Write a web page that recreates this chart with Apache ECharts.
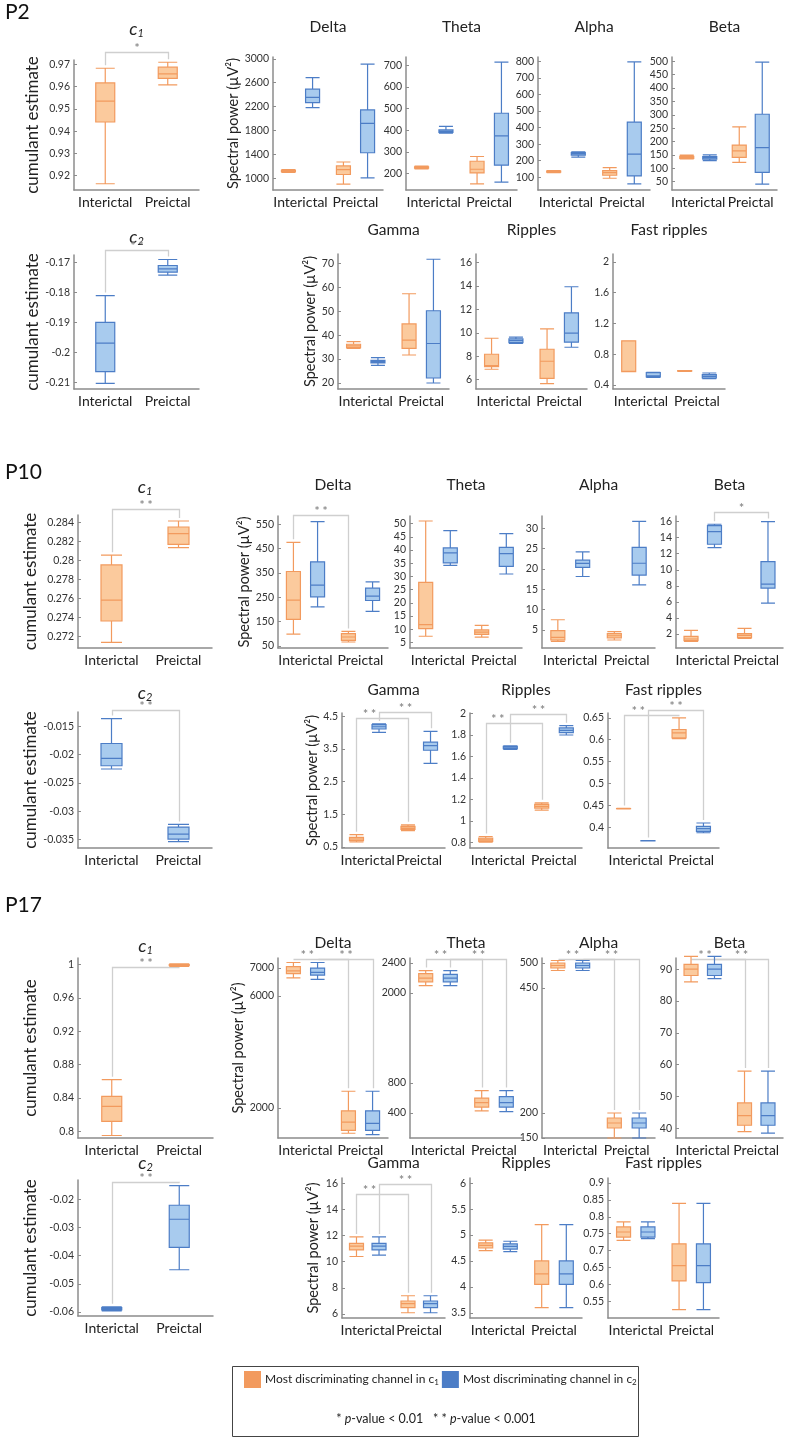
<!DOCTYPE html>
<html><head><meta charset="utf-8">
<script src="https://cdn.jsdelivr.net/npm/echarts@6/dist/echarts.min.js"></script>
<style>html,body{margin:0;padding:0;background:#fff}#c{width:785px;height:1439px}</style>
</head><body><div id="c"></div><script>
const FONT = 'Lato, "Open Sans", sans-serif';
const categories = ['Interictal', 'Preictal'];

// ---------- P2 ----------
const p2_c1_vals = [[0.9164, 0.9441, 0.9535, 0.9616, 0.9682], [0.9607, 0.9637, 0.9657, 0.9687, 0.9709]];
const p2_c1_ticks = [0.92, 0.93, 0.94, 0.95, 0.96, 0.97];
const p2_c1_sig = [[0, 0, 0, 1, '*']];
const p2_c2_vals = [[-0.2103, -0.2064, -0.1969, -0.19, -0.1811], [-0.1743, -0.1733, -0.1722, -0.1711, -0.1691]];
const p2_c2_ticks = [-0.21, -0.2, -0.19, -0.18, -0.17];
const p2_c2_sig = [[0, 0, 0, 1, '* *']];
const p2_delta_c1 = [[1100, 1115, 1125, 1135, 1150], [906, 1066, 1149, 1209, 1275]];
const p2_delta_c2 = [[2185, 2267, 2355, 2493, 2686], [1011, 1430, 1920, 2146, 2912]];
const p2_delta_ticks = [1000, 1400, 1800, 2200, 2600, 3000];
const p2_theta_c1 = [[222, 225, 228, 231, 234], [152, 203, 220, 257, 279]];
const p2_theta_c2 = [[387, 390, 395, 402, 418], [160, 239, 374, 479, 715]];
const p2_theta_ticks = [200, 300, 400, 500, 600, 700];
const p2_alpha_c1 = [[128, 131, 134, 137, 140], [94, 112, 128, 140, 158]];
const p2_alpha_c2 = [[221, 233, 243, 249, 253], [60, 108, 239, 433, 796]];
const p2_alpha_ticks = [100, 200, 300, 400, 500, 600, 700, 800];
const p2_beta_c1 = [[135, 137, 141, 145, 149], [122, 141, 165, 187, 255]];
const p2_beta_c2 = [[129, 134, 139, 144, 150], [41, 85, 177, 302, 497]];
const p2_beta_ticks = [50, 100, 150, 200, 250, 300, 350, 400, 450, 500];
const p2_gamma_c1 = [[34.5, 34.8, 35.5, 36.2, 37.3], [31.7, 34.5, 37.9, 44.7, 57.3]];
const p2_gamma_c2 = [[27.4, 28.4, 28.9, 29.5, 30.6], [20, 22.1, 36.5, 50.2, 71.7]];
const p2_gamma_ticks = [20, 30, 40, 50, 60, 70];
const p2_ripples_c1 = [[6.89, 7.11, 7.2, 8.17, 9.54], [5.66, 6.11, 7.57, 8.6, 10.34]];
const p2_ripples_c2 = [[9.09, 9.17, 9.34, 9.49, 9.63], [8.77, 9.2, 9.97, 11.71, 13.94]];
const p2_ripples_ticks = [6, 8, 10, 12, 14, 16];
const p2_fast_c1 = [[0.575, 0.575, 0.578, 0.975, 0.975], [0.578, 0.58, 0.583, 0.586, 0.588]];
const p2_fast_c2 = [[0.5, 0.504, 0.52, 0.561, 0.565], [0.483, 0.491, 0.513, 0.535, 0.556]];
const p2_fast_ticks = [0.4, 0.8, 1.2, 1.6, 2];

// ---------- P10 ----------
const p10_c1_vals = [[0.27138, 0.27362, 0.27582, 0.27952, 0.28054], [0.28134, 0.28169, 0.28281, 0.28351, 0.28414]];
const p10_c1_ticks = [0.272, 0.274, 0.276, 0.278, 0.28, 0.282, 0.284];
const p10_c1_sig = [[0, 0, 0, 1, '* *']];
const p10_c2_vals = [[-0.02254, -0.02196, -0.02067, -0.01804, -0.01365], [-0.03535, -0.03488, -0.034, -0.03278, -0.0323]];
const p10_c2_ticks = [-0.035, -0.03, -0.025, -0.02, -0.015];
const p10_c2_sig = [[0, 0, 0, 1, '* *']];
const p10_delta_c1 = [[99, 159, 238.5, 356, 476], [66.4, 73, 87, 100.5, 110]];
const p10_delta_c2 = [[211, 252, 300, 395.6, 561], [192, 237, 255, 287.7, 313.7]];
const p10_delta_ticks = [50, 150, 250, 350, 450, 550];
const p10_delta_sig = [[0, 0, 0, 1, '* *']];
const p10_theta_c1 = [[7.3, 10.2, 11.7, 27.75, 51], [7.0, 8.0, 8.9, 9.7, 11.45]];
const p10_theta_c2 = [[34.2, 35.1, 38.9, 40.8, 47.35], [30.9, 33.8, 38.6, 41, 46.2]];
const p10_theta_ticks = [5, 10, 15, 20, 25, 30, 35, 40, 45, 50];
const p10_alpha_c1 = [[2.2, 2.55, 3.2, 4.84, 7.53], [2.55, 3.1, 3.6, 4.1, 4.6]];
const p10_alpha_c2 = [[18.15, 20.4, 21.35, 22.16, 24.2], [16.1, 18.5, 21.4, 25.3, 31.7]];
const p10_alpha_ticks = [5, 10, 15, 20, 25, 30];
const p10_beta_c1 = [[1.09, 1.17, 1.38, 1.71, 2.46], [1.46, 1.54, 1.83, 2.04, 2.7]];
const p10_beta_c2 = [[12.77, 13.18, 14.76, 15.5, 15.67], [5.85, 7.72, 8.22, 11.03, 16]];
const p10_beta_ticks = [2, 4, 6, 8, 10, 12, 14, 16];
const p10_beta_sig = [[1, 0, 1, 1, '*']];
const p10_gamma_c1 = [[0.653, 0.694, 0.745, 0.796, 0.877], [1.0, 1.04, 1.08, 1.13, 1.18]];
const p10_gamma_c2 = [[4.01, 4.11, 4.18, 4.245, 4.265], [3.06, 3.46, 3.6, 3.71, 4.04]];
const p10_gamma_ticks = [0.5, 1.5, 2.5, 3.5, 4.5];
const p10_gamma_sig = [[0, 0, 0, 1, '* *'], [1, 0, 1, 1, '* *']];
const p10_ripples_c1 = [[0.803, 0.81, 0.824, 0.84, 0.855], [1.1, 1.12, 1.136, 1.154, 1.169]];
const p10_ripples_c2 = [[1.667, 1.673, 1.686, 1.695, 1.7], [1.8, 1.823, 1.844, 1.866, 1.887]];
const p10_ripples_ticks = [0.8, 1, 1.2, 1.4, 1.6, 1.8, 2];
const p10_ripples_sig = [[0, 0, 0, 1, '* *'], [1, 0, 1, 1, '* *']];
const p10_fast_c1 = [[0.442, 0.4425, 0.4427, 0.443, 0.4432], [0.6027, 0.6043, 0.6157, 0.6233, 0.65]];
const p10_fast_c2 = [[0.369, 0.3692, 0.3695, 0.3698, 0.37], [0.3878, 0.3909, 0.397, 0.4023, 0.41]];
const p10_fast_ticks = [0.4, 0.45, 0.5, 0.55, 0.6, 0.65];
const p10_fast_sig = [[0, 0, 0, 1, '* *'], [1, 0, 1, 1, '* *']];

// ---------- P17 ----------
const p17_c1_vals = [[0.795, 0.812, 0.83, 0.842, 0.862], [0.998, 0.999, 0.9995, 1.0, 1.001]];
const p17_c1_ticks = [0.8, 0.84, 0.88, 0.92, 0.96, 1];
const p17_c1_sig = [[0, 0, 0, 1, '* *']];
const p17_c2_vals = [[-0.0597, -0.0593, -0.0589, -0.0585, -0.0582], [-0.045, -0.037, -0.027, -0.022, -0.015]];
const p17_c2_ticks = [-0.06, -0.05, -0.04, -0.03, -0.02];
const p17_c2_sig = [[0, 0, 0, 1, '* *']];
const p17_delta_c1 = [[6650, 6800, 6900, 7050, 7200], [1100, 1200, 1500, 1900, 2600]];
const p17_delta_c2 = [[6600, 6750, 6850, 7000, 7200], [1050, 1200, 1450, 1900, 2600]];
const p17_delta_ticks = [2000, 6000, 7000];
const p17_theta_c1 = [[2100, 2150, 2200, 2260, 2300], [430, 480, 540, 600, 700]];
const p17_theta_c2 = [[2100, 2150, 2200, 2250, 2300], [420, 480, 540, 620, 700]];
const p17_theta_ticks = [400, 800, 2000, 2400];
const p17_alpha_c1 = [[485, 490, 495, 500, 505], [150, 170, 180, 190, 200]];
const p17_alpha_c2 = [[485, 490, 495, 500, 505], [150, 170, 180, 190, 200]];
const p17_alpha_ticks = [150, 200, 450, 500];
const p17_beta_c1 = [[86, 88, 90, 91.5, 94], [39, 41, 44, 48, 58]];
const p17_beta_c2 = [[87, 88, 90, 91.5, 94], [38.5, 41, 44, 48, 58]];
const p17_beta_ticks = [40, 50, 60, 70, 80, 90];
const p17_gamma_c1 = [[10.4, 10.9, 11.2, 11.4, 11.9], [6.1, 6.5, 6.8, 7.0, 7.4]];
const p17_gamma_c2 = [[10.5, 10.9, 11.2, 11.4, 11.9], [6.1, 6.5, 6.8, 7.0, 7.4]];
const p17_gamma_ticks = [6, 8, 10, 12, 14, 16];
const p17_ripples_c1 = [[4.7, 4.75, 4.8, 4.85, 4.9], [3.6, 4.05, 4.25, 4.5, 5.2]];
const p17_ripples_c2 = [[4.68, 4.73, 4.78, 4.83, 4.88], [3.6, 4.05, 4.25, 4.5, 5.2]];
const p17_ripples_ticks = [3.5, 4, 4.5, 5, 5.5, 6];
const p17_fast_c1 = [[0.73, 0.74, 0.755, 0.77, 0.785], [0.525, 0.61, 0.655, 0.72, 0.84]];
const p17_fast_c2 = [[0.735, 0.74, 0.755, 0.77, 0.785], [0.525, 0.605, 0.655, 0.72, 0.84]];
const p17_fast_ticks = [0.55, 0.6, 0.65, 0.7, 0.75, 0.8, 0.85, 0.9];
const pairSig = [[0, 0, 0, 1, '* *'], [1, 0, 1, 1, '* *']];

const patientLabels = ['P2', 'P10', 'P17'];
const legendNames = ['c1', 'c2'];

// ---------- layout / style ----------
const STY = {
  c1: { fill: '#FBCA9D', stroke: '#F29A5E' },
  c2: { fill: '#A8CBEE', stroke: '#4C7DC6' }
};
const AX = '#8c8c8c';
const SPN = 'Spectral power (µV²)';
const CUM = 'cumulant estimate';
const PAIR_POS = [0.25, 0.5];

const panels = [
  // P2
  { d: [p2_c1_vals], k: ['c1'], t: p2_c1_ticks, r: [0.9136, 0.9719], sig: p2_c1_sig, sh: [8], g: [74, 60, 125, 130], title: 'c1', ty: 29, yn: CUM, ng: 33, bw: 19 },
  { d: [p2_c2_vals], k: ['c2'], t: p2_c2_ticks, r: [-0.2122, -0.1676], sig: p2_c2_sig, sh: [5], g: [74, 255, 125, 134], title: 'c2', ty: 237, yn: CUM, ng: 33, bw: 19 },
  { d: [p2_delta_c1, p2_delta_c2], k: ['c1', 'c2'], t: p2_delta_ticks, r: [807, 3030], g: [273, 57, 110, 133], title: 'Delta', ty: 27, yn: SPN, ng: 28 },
  { d: [p2_theta_c1, p2_theta_c2], k: ['c1', 'c2'], t: p2_theta_ticks, r: [124, 739], g: [406, 57, 111, 133], title: 'Theta', ty: 27 },
  { d: [p2_alpha_c1, p2_alpha_c2], k: ['c1', 'c2'], t: p2_alpha_ticks, r: [23, 826], g: [538, 57, 112, 133], title: 'Alpha', ty: 27 },
  { d: [p2_beta_c1, p2_beta_c2], k: ['c1', 'c2'], t: p2_beta_ticks, r: [19, 516], g: [672, 57, 105, 133], title: 'Beta', ty: 27 },
  { d: [p2_gamma_c1, p2_gamma_c2], k: ['c1', 'c2'], t: p2_gamma_ticks, r: [17.5, 73.9], g: [338, 254, 111, 135], title: 'Gamma', ty: 230, yn: SPN, ng: 20 },
  { d: [p2_ripples_c1, p2_ripples_c2], k: ['c1', 'c2'], t: p2_ripples_ticks, r: [5.2, 16.74], g: [476, 254, 111, 135], title: 'Ripples', ty: 230 },
  { d: [p2_fast_c1, p2_fast_c2], k: ['c1', 'c2'], t: p2_fast_ticks, r: [0.348, 2.104], g: [613, 254, 112, 135], title: 'Fast ripples', ty: 230 },
  // P10
  { d: [p10_c1_vals], k: ['c1'], t: p10_c1_ticks, r: [0.27078, 0.28477], sig: p10_c1_sig, sh: [6], g: [78, 515, 134, 133], title: 'c1', ty: 487, yn: CUM, ng: 39, bw: 21 },
  { d: [p10_c2_vals], k: ['c2'], t: p10_c2_ticks, r: [-0.03646, -0.01249], sig: p10_c2_sig, sh: [2], g: [78, 712, 134, 136], title: 'c2', ty: 693, yn: CUM, ng: 39, bw: 21 },
  { d: [p10_delta_c1, p10_delta_c2], k: ['c1', 'c2'], t: p10_delta_ticks, r: [41.8, 584], sig: p10_delta_sig, sh: [1], g: [278, 516, 110, 132], title: 'Delta', ty: 485, yn: SPN, ng: 24 },
  { d: [p10_theta_c1, p10_theta_c2], k: ['c1', 'c2'], t: p10_theta_ticks, r: [2.85, 52.9], g: [410, 516, 112, 132], title: 'Theta', ty: 485 },
  { d: [p10_alpha_c1, p10_alpha_c2], k: ['c1', 'c2'], t: p10_alpha_ticks, r: [0.59, 33.0], g: [542, 516, 113, 132], title: 'Alpha', ty: 485 },
  { d: [p10_beta_c1, p10_beta_c2], k: ['c1', 'c2'], t: p10_beta_ticks, r: [0.26, 16.7], sig: p10_beta_sig, sh: [4], g: [676, 516, 107, 132], title: 'Beta', ty: 485 },
  { d: [p10_gamma_c1, p10_gamma_c2], k: ['c1', 'c2'], t: p10_gamma_ticks, r: [0.47, 4.6], sig: p10_gamma_sig, sh: [-5, 1], sp: PAIR_POS, g: [342, 713, 103, 135], title: 'Gamma', ty: 690, yn: SPN, ng: 21 },
  { d: [p10_ripples_c1, p10_ripples_c2], k: ['c1', 'c2'], t: p10_ripples_ticks, r: [0.748, 2.005], sig: p10_ripples_sig, sh: [-10, -1], sp: [0.2, 0.5], g: [470, 713, 112, 135], title: 'Ripples', ty: 690 },
  { d: [p10_fast_c1, p10_fast_c2], k: ['c1', 'c2'], t: p10_fast_ticks, r: [0.353, 0.661], sig: p10_fast_sig, sh: [-2, 3], sp: PAIR_POS, g: [608, 713, 111, 135], title: 'Fast ripples', ty: 690 },
  // P17
  { d: [p17_c1_vals], k: ['c1'], t: p17_c1_ticks, r: [0.792, 1.008], sig: p17_c1_sig, sh: [-9], g: [78, 958, 135, 180], title: 'c1', ty: 946, yn: CUM, ng: 39, bw: 20 },
  { d: [p17_c2_vals], k: ['c2'], t: p17_c2_ticks, r: [-0.0615, -0.013], sig: p17_c2_sig, sh: [-2], g: [78, 1180, 135, 136], title: 'c2', ty: 1163, yn: CUM, ng: 39, bw: 20 },
  { d: [p17_delta_c1, p17_delta_c2], k: ['c1', 'c2'], t: p17_delta_ticks, r: [930, 7360], sig: pairSig, sh: [-1, -1], sp: PAIR_POS, g: [278, 958, 110, 180], title: 'Delta', ty: 943, yn: SPN, ng: 24 },
  { d: [p17_theta_c1, p17_theta_c2], k: ['c1', 'c2'], t: p17_theta_ticks, r: [67, 2467], sig: pairSig, sh: [-1, -1], sp: PAIR_POS, g: [410, 958, 112, 180], title: 'Theta', ty: 943 },
  { d: [p17_alpha_c1, p17_alpha_c2], k: ['c1', 'c2'], t: p17_alpha_ticks, r: [150, 510], sig: pairSig, sh: [-1, -1], sp: PAIR_POS, g: [542, 958, 113, 180], title: 'Alpha', ty: 943 },
  { d: [p17_beta_c1, p17_beta_c2], k: ['c1', 'c2'], t: p17_beta_ticks, r: [37, 93.5], sig: pairSig, sh: [-1, -1], sp: PAIR_POS, g: [676, 958, 107, 180], title: 'Beta', ty: 943 },
  { d: [p17_gamma_c1, p17_gamma_c2], k: ['c1', 'c2'], t: p17_gamma_ticks, r: [5.7, 16.4], sig: pairSig, sh: [-16, -6], sp: PAIR_POS, g: [342, 1178, 103, 140], title: 'Gamma', ty: 1163, yn: SPN, ng: 21 },
  { d: [p17_ripples_c1, p17_ripples_c2], k: ['c1', 'c2'], t: p17_ripples_ticks, r: [3.4, 6.1], g: [470, 1178, 112, 140], title: 'Ripples', ty: 1163 },
  { d: [p17_fast_c1, p17_fast_c2], k: ['c1', 'c2'], t: p17_fast_ticks, r: [0.5, 0.915], g: [608, 1178, 111, 140], title: 'Fast ripples', ty: 1163 }
];
const patientLabelPos = [[5, 12], [5, 472], [5, 905]];

const grid = [], xAxis = [], yAxis = [], series = [], graphic = [];

function bracketSeries(p, gi) {
  const nS = p.d.length;
  return {
    type: 'custom', xAxisIndex: gi, yAxisIndex: gi, silent: true, z: 1, clip: false,
    data: p.sig.map((s, k) => [s[1], p.r[0]]),
    renderItem: function (params, api) {
      const k = params.dataIndex;
      const s = p.sig[k];
      const band = api.size([1, 0])[0];
      const A = band * 0.8 - 2;
      const off = nS === 1 ? 0 : 0.2875 * A;
      const xOf = (si, ci) => api.coord([ci, p.r[0]])[0] + (nS === 1 ? 0 : (si === 0 ? -off : off));
      const lineY = api.coord([0, p.r[1]])[1] - p.sh[k];
      const ly = Math.round(lineY) + 0.5;
      const yTop = (si, ci) => Math.max(ly, api.coord([ci, p.d[si][ci][4]])[1] - 3);
      const xA = Math.round(xOf(s[0], s[1])) + 0.5, xB = Math.round(xOf(s[2], s[3])) + 0.5;
      const f = p.sp ? p.sp[k] : 0.5;
      return {
        type: 'group', children: [
          { type: 'polyline', shape: { points: [[xA, yTop(s[0], s[1])], [xA, ly], [xB, ly], [xB, yTop(s[2], s[3])]] },
            style: { stroke: '#cfcfcf', lineWidth: 1.3, fill: 'none' } },
          { type: 'text', style: { text: s[4], x: xA + (xB - xA) * f, y: ly + 2, align: 'center', verticalAlign: 'bottom',
            textAlign: 'center', textVerticalAlign: 'bottom', fill: '#8a8a8a', fontSize: 12, fontFamily: FONT, fontWeight: 'bold' } }
        ]
      };
    }
  };
}

panels.forEach((p, i) => {
  grid.push({ left: p.g[0], top: p.g[1], width: p.g[2], height: p.g[3] });
  xAxis.push({
    gridIndex: i, type: 'category', data: categories, boundaryGap: true,
    axisLine: { lineStyle: { color: AX, width: 1.5 } }, axisTick: { show: false },
    axisLabel: { color: '#222', fontSize: 14, fontFamily: FONT, margin: 5, interval: 0 },
    splitLine: { show: false }
  });
  yAxis.push({
    gridIndex: i, type: 'value', min: p.r[0], max: p.r[1],
    axisLine: { show: true, lineStyle: { color: AX, width: 1.5 } },
    axisTick: { show: true, inside: true, length: 3, customValues: p.t, lineStyle: { color: AX } },
    axisLabel: { customValues: p.t, formatter: v => String(v), color: '#333', fontSize: 10.5, fontFamily: FONT, margin: 4 },
    splitLine: { show: false },
    name: p.yn || '', nameLocation: 'middle', nameGap: p.ng || 20,
    nameTextStyle: { fontFamily: FONT, fontSize: p.yn === CUM ? 17 : 14.5, color: '#222' }
  });
  p.d.forEach((arr, k) => {
    const st = STY[p.k[k]];
    series.push({
      type: 'boxplot', name: p.k[k], xAxisIndex: i, yAxisIndex: i, data: arr,
      boxWidth: [4, p.bw || 14], silent: true, z: 3,
      itemStyle: { color: st.fill, borderColor: st.stroke, borderWidth: 1.2 },
      emphasis: { disabled: true }
    });
  });
  if (p.sig) series.push(bracketSeries(p, i));
  const cx = p.g[0] + p.g[2] / 2;
  if (p.title === 'c1' || p.title === 'c2') {
    graphic.push({ type: 'text', x: cx, y: p.ty, silent: true, style: {
      text: '{i|c}{s|' + p.title.slice(1) + '}', align: 'center', verticalAlign: 'middle', textAlign: 'center', textVerticalAlign: 'middle',
      rich: { i: { fontFamily: FONT, fontStyle: 'italic', fontSize: 18, fill: '#222', color: '#222' },
              s: { fontFamily: FONT, fontStyle: 'italic', fontSize: 11, fill: '#222', color: '#222', padding: [9, 0, 0, 0] } } } });
  } else {
    graphic.push({ type: 'text', x: cx, y: p.ty, silent: true, style: {
      text: p.title, align: 'center', verticalAlign: 'middle', textAlign: 'center', textVerticalAlign: 'middle',
      fontFamily: FONT, fontSize: 15.5, fill: '#222' } });
  }
});

patientLabels.forEach((t, i) => {
  graphic.push({ type: 'text', x: patientLabelPos[i][0], y: patientLabelPos[i][1], silent: true,
    style: { text: t, verticalAlign: 'middle', textVerticalAlign: 'middle', fontFamily: FONT, fontSize: 21, fill: '#111' } });
});

// legend frame and p-value line
graphic.push({ type: 'rect', silent: true, shape: { x: 232.5, y: 1366.5, width: 406, height: 70 },
  style: { fill: 'none', stroke: '#444', lineWidth: 1 } });
graphic.push({ type: 'text', x: 436, y: 1419, silent: true, style: {
  text: '{n|* }{i|p}{n|-value < 0.01   * * }{i|p}{n|-value < 0.001}',
  align: 'center', verticalAlign: 'middle', textAlign: 'center', textVerticalAlign: 'middle',
  rich: { n: { fontFamily: FONT, fontSize: 12.5, fill: '#222', color: '#222' },
          i: { fontFamily: FONT, fontSize: 12.5, fontStyle: 'italic', fill: '#222', color: '#222' } } } });

const chart = echarts.init(document.getElementById('c'), null, { renderer: 'canvas' });
chart.setOption({
  animation: false,
  backgroundColor: '#fff',
  grid, xAxis, yAxis, series, graphic,
  legend: {
    data: legendNames, left: 244, top: 1371, icon: 'rect', itemWidth: 15, itemHeight: 15, itemGap: 3,
    selectedMode: false, padding: 0,
    formatter: n => 'Most discriminating channel in c{s|' + n.slice(1) + '}',
    textStyle: { fontFamily: FONT, fontSize: 12, color: '#222',
      rich: { s: { fontFamily: FONT, fontSize: 8, color: '#222', padding: [5, 0, 0, 0] } } }
  }
});
</script></body></html>
